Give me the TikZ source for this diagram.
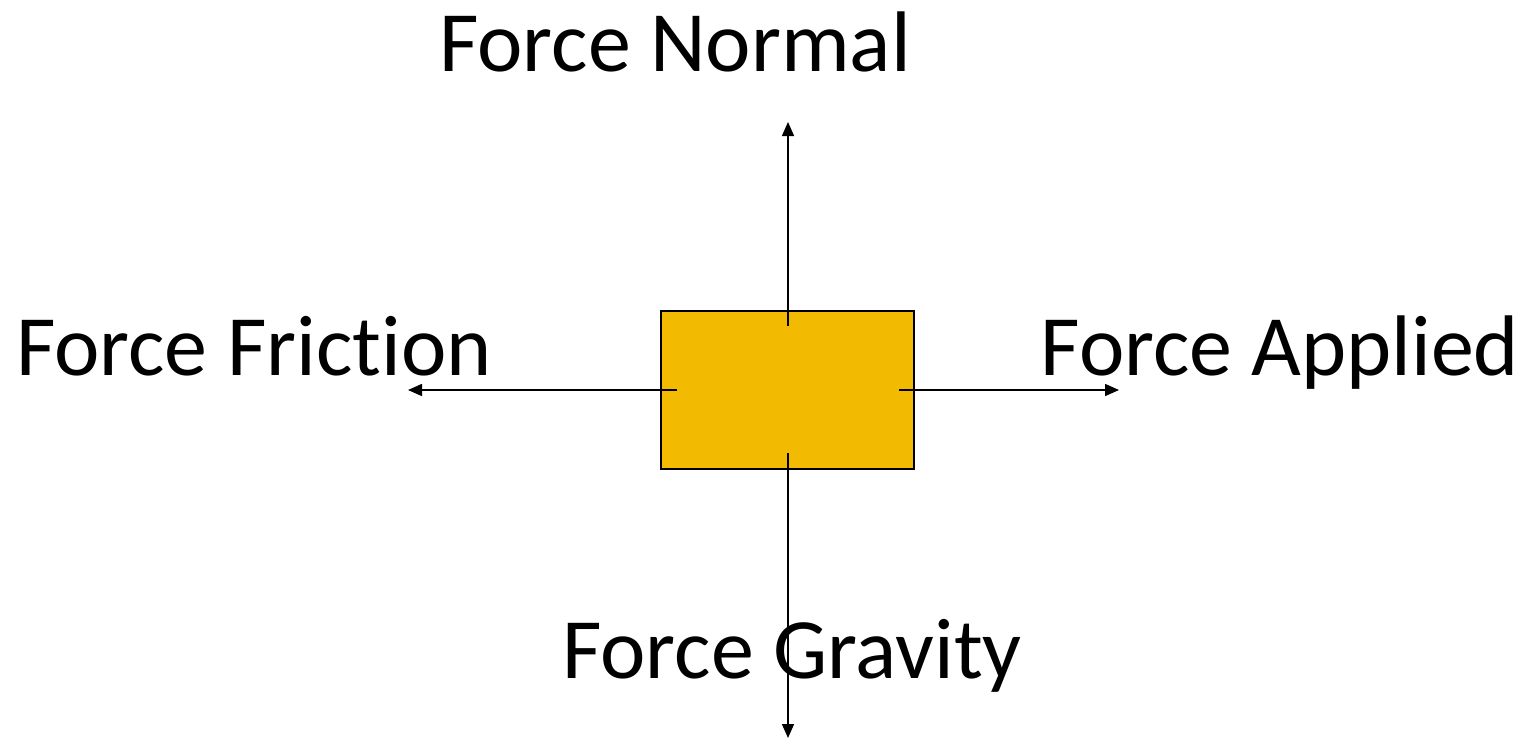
\documentclass[tikz,border=0pt]{standalone}
\usepackage{fontspec}
\setmainfont[Ligatures=NoCommon]{Carlito}
\usetikzlibrary{arrows.meta}
\definecolor{boxfill}{HTML}{F2BA00}
\tikzset{
  lbl/.style={inner sep=0pt, anchor=base, font=\fontsize{43}{50}\selectfont},
  force/.style={line width=0.75pt, -{Triangle[length=7pt,width=6pt]}},
  block/.style={draw=black, line width=1pt, fill=boxfill}
}
\begin{document}
\begin{tikzpicture}[x=0.5pt,y=-0.5pt]
\useasboundingbox (0,0) rectangle (1525,739);
\draw[block] (661,311) rectangle (914,469);
\coordinate (ct) at (788,326);
\coordinate (cb) at (788,453);
\coordinate (cl) at (677,390);
\coordinate (cr) at (899,390);
\coordinate (tu) at (788,122);
\coordinate (td) at (788,738);
\coordinate (tl) at (408,390);
\coordinate (tr) at (1119,390);
\draw[force] (ct) -- (tu);
\draw[force] (cb) -- (td);
\draw[force] (cl) -- (tl);
\draw[force] (cr) -- (tr);
\node[lbl] (n) at (675,71) {Force Normal};
\node[lbl] (f) at (254,375) {Force Fric\kern0pt tion};
\node[lbl] (a) at (1280,375) {Force Applied};
\node[lbl] (g) at (792,678) {Force Gravity};
\end{tikzpicture}
\end{document}
